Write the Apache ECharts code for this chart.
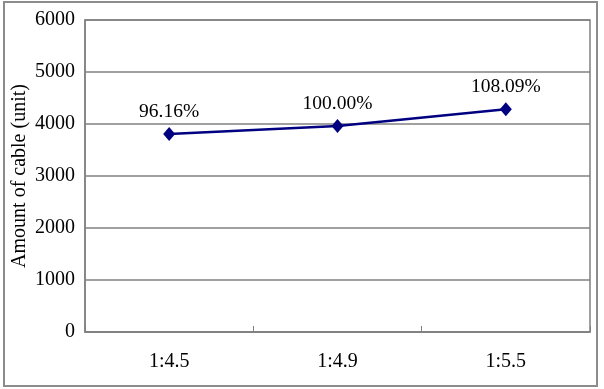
<!DOCTYPE html>
<html>
<head>
<meta charset="utf-8">
<script src="https://cdn.jsdelivr.net/npm/echarts@6/dist/echarts.min.js"></script>
<style>
html,body{margin:0;padding:0;background:#fff;}
#main{width:604px;height:389px;}
</style>
</head>
<body>
<div id="main"></div>
<script>
var categories = ['1:4.5', '1:4.9', '1:5.5'];
var cableAmount = [3810, 3962, 4283];
var pointLabels = ['96.16%', '100.00%', '108.09%'];
var yTicks = { min: 0, max: 6000, interval: 1000 };
var yAxisTitle = 'Amount of cable (unit)';

var chart = echarts.init(document.getElementById('main'), null, { renderer: 'canvas' });
var serif = '"Liberation Serif", "Times New Roman", serif';
chart.setOption({
  animation: false,
  backgroundColor: '#fff',
  graphic: [{
    type: 'rect',
    shape: { x: 4, y: 2, width: 593, height: 384 },
    style: { fill: 'none', stroke: '#8c8c8c', lineWidth: 2 },
    silent: true
  }],
  grid: {
    left: 85, right: 14, top: 20, bottom: 57,
    outerBoundsMode: 'none',
    containLabel: false,
    show: true, borderColor: '#808080', borderWidth: 1.5, backgroundColor: 'transparent'
  },
  xAxis: {
    type: 'category',
    data: categories,
    boundaryGap: true,
    axisLine: { show: true, lineStyle: { color: '#808080', width: 1.5 } },
    axisTick: { show: true, inside: true, length: 6, lineStyle: { color: '#808080', width: 1 } },
    axisLabel: { color: '#000', fontFamily: serif, fontSize: 20, margin: 20 },
    splitLine: { show: false }
  },
  yAxis: {
    type: 'value',
    min: yTicks.min, max: yTicks.max, interval: yTicks.interval,
    name: yAxisTitle,
    nameLocation: 'middle',
    nameGap: 55,
    nameMoveOverlap: false,
    nameTextStyle: { color: '#000', fontFamily: serif, fontSize: 20 },
    axisLine: { show: true, lineStyle: { color: '#808080', width: 1.5 } },
    axisTick: { show: false },
    axisLabel: { color: '#000', fontFamily: serif, fontSize: 20, margin: 10,
      formatter: function (v) { return String(v); } },
    splitLine: { show: true, lineStyle: { color: '#808080', width: 1.5 } }
  },
  series: [{
    type: 'line',
    data: cableAmount,
    symbol: 'diamond',
    symbolSize: [12, 14],
    showAllSymbol: true,
    lineStyle: { color: '#000080', width: 2.5 },
    itemStyle: { color: '#000080' },
    label: {
      show: true,
      position: 'top',
      distance: 5,
      color: '#000',
      fontFamily: serif,
      fontSize: 19.5,
      formatter: function (p) { return pointLabels[p.dataIndex]; }
    }
  }]
});
</script>
</body>
</html>
